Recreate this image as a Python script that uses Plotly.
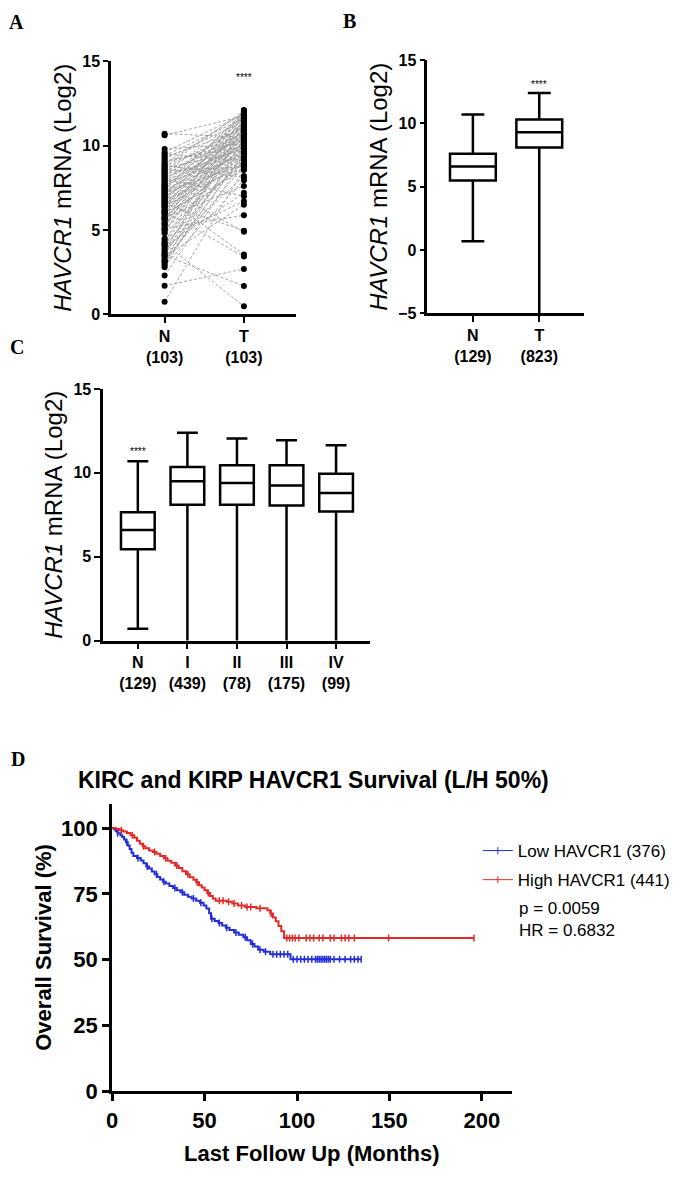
import plotly.graph_objects as go
import numpy as np

W, H = 685, 1177
def px(x): return x / W
def py(y): return 1 - y / H

FONT = "Liberation Sans, Arial, Helvetica, sans-serif"
SERIF = "Liberation Serif, Times New Roman, serif"

# ---------------- Panel A: paired N / T (103 pairs) ----------------
pair_n = [0.75, 1.7, 2.3, 2.8, 2.9, 3.0, 3.1, 3.2, 3.3, 3.4, 3.5, 3.6, 3.7, 3.8, 3.9, 4.0, 4.1, 4.2, 4.3, 4.4,
          4.5, 4.8, 4.9, 5.0, 5.05, 5.1, 5.2, 5.3, 5.35, 5.4, 5.5, 5.6, 5.65, 5.7, 5.75, 5.8, 5.9, 5.95, 6.0, 6.05,
          6.1, 6.15, 6.2, 6.3, 6.35, 6.4, 6.45, 6.5, 6.55, 6.6, 6.65, 6.7, 6.75, 6.8, 6.85, 6.9, 6.95, 7.0, 7.05, 7.1,
          7.15, 7.2, 7.25, 7.3, 7.35, 7.4, 7.45, 7.5, 7.55, 7.6, 7.65, 7.7, 7.8, 7.85, 7.9, 8.0, 8.05, 8.1, 8.2, 8.25,
          8.3, 8.4, 8.45, 8.5, 8.6, 8.65, 8.7, 8.8, 8.85, 8.9, 9.0, 9.1, 9.2, 9.3, 9.4, 9.5, 9.6, 9.8, 10.6, 10.7,
          3.15, 4.15, 3.55]
pair_t = [8.6, 2.69, 9.2, 10.4, 7.95, 9.6, 11.2, 8.8, 10.1, 6.5, 1.68, 9.9, 11.6, 8.2, 10.7, 7.2, 9.35, 0.48, 11.9, 10.25,
          6.7, 9.05, 11.4, 10.55, 8.95, 5.87, 11.75, 9.75, 10.85, 8.7, 12.05, 9.45, 10.3, 11.05, 7.6, 9.15, 11.5, 10.0, 8.55, 10.65,
          3.43, 11.3, 9.55, 12.1, 10.15, 8.9, 11.0, 9.8, 4.96, 10.45, 11.85, 9.25, 10.95, 8.65, 11.45, 10.2, 3.55, 9.65, 11.65, 10.75,
          9.0, 11.15, 10.35, 8.85, 12.0, 9.5, 10.9, 4.9, 11.35, 9.95, 10.6, 11.8, 9.3, 10.05, 11.55, 7.0, 10.5, 9.85, 11.25, 10.8,
          9.4, 11.7, 10.4, 8.75, 11.1, 9.7, 12.05, 10.7, 8.1, 11.95, 10.25, 9.9, 11.45, 10.95, 11.6, 9.1, 11.85, 10.1, 11.75, 10.5,
          9.45, 10.85, 11.3]
a_labels = ["N<br>(103)", "T<br>(103)"]

# ---------------- Panel B: box N vs T ----------------
b_labels = ["N<br>(129)", "T<br>(823)"]
b_q1 = [5.5, 8.1]
b_med = [6.6, 9.3]
b_q3 = [7.6, 10.3]
b_lo = [0.7, -5.5]
b_hi = [10.7, 12.4]

# ---------------- Panel C: box by stage ----------------
c_labels = ["N<br>(129)", "I<br>(439)", "II<br>(78)", "III<br>(175)", "IV<br>(99)"]
c_q1 = [5.45, 8.1, 8.1, 8.05, 7.7]
c_med = [6.6, 9.5, 9.4, 9.25, 8.8]
c_q3 = [7.65, 10.35, 10.45, 10.45, 9.95]
c_lo = [0.7, -5.5, -5.5, -5.5, -5.5]
c_hi = [10.7, 12.4, 12.05, 11.95, 11.65]

# ---------------- Panel D: Kaplan-Meier ----------------
low_t = [0, 1.0, 2.0, 3.0, 4.5, 5.5, 6.5, 7.5, 8.5, 9.5, 10.5, 11.5, 13.5, 15.5, 17.0, 18.5, 20.0, 21.5, 23.0, 24.5,
         26.0, 27.5, 29.0, 31.0, 33.0, 35.0, 37.0, 39.0, 41.0, 43.0, 45.5, 47.5, 49.5, 51.0, 52.5, 53.5, 55.5, 57.5,
         59.5, 61.5, 63.5, 66.0, 68.5, 71.0, 73.0, 75.0, 77.0, 79.0, 82.0, 85.5, 96.5]
low_s = [100, 99.5, 98.8, 98.0, 97.3, 96.6, 95.6, 94.6, 93.4, 92.0, 90.6, 89.4, 88.6, 87.7, 86.6, 85.4, 84.6, 83.5, 82.4, 81.4,
         80.5, 79.6, 78.9, 78.0, 77.2, 76.4, 75.6, 74.7, 73.9, 73.2, 72.4, 71.6, 70.6, 69.4, 67.6, 65.5, 64.7, 63.9,
         63.0, 62.1, 61.3, 60.3, 59.5, 58.5, 57.4, 56.0, 55.0, 53.8, 53.0, 52.1, 50.2]
low_cens = [3, 8, 14, 19, 24, 28, 34, 38, 44, 48, 54, 58, 62, 67, 72, 76, 80, 83, 87, 89, 91, 93, 95, 98, 100, 102, 104,
            106, 108, 110, 111, 112, 113, 114, 115, 116, 117, 118, 120, 123, 126, 129, 131, 133, 134.7]

high_t = [0, 2.0, 4.0, 6.0, 8.0, 10.0, 12.0, 13.5, 15.0, 16.5, 18.0, 20.0, 22.0, 24.0, 26.0, 28.0, 30.0, 32.0, 34.0, 36.0,
          38.0, 40.0, 42.0, 44.0, 45.5, 47.0, 48.5, 50.0, 51.5, 53.0, 54.5, 56.0, 62.0, 65.0, 68.0, 72.0, 78.0, 84.0,
          85.5, 87.0, 88.5, 90.0, 91.5, 93.0]
high_s = [100, 99.6, 99.2, 98.7, 98.1, 97.3, 96.3, 95.2, 94.0, 93.1, 92.3, 91.5, 90.9, 90.2, 89.4, 88.5, 87.6, 86.8, 85.8, 84.8,
          83.6, 82.4, 81.3, 80.4, 79.4, 78.3, 77.4, 76.4, 75.3, 74.2, 73.2, 72.4, 72.0, 71.3, 70.6, 70.0, 69.5, 68.8,
          67.5, 66.0, 64.6, 62.8, 60.8, 58.2]
high_cens = [5, 11, 17, 23, 29, 35, 41, 46, 52, 58, 60, 63, 66, 70, 73, 75, 80, 86, 94.5, 96, 97.5, 99, 101, 105, 107,
             109, 112, 114, 118, 120, 124, 126, 128, 131, 149.5, 195.7]

BLUE = "rgb(35,45,215)"
RED = "rgb(228,40,40)"

fig = go.Figure()

# Panel A
lx, ly = [], []
for n, t in zip(pair_n, pair_t):
    lx += [0, 1, None]
    ly += [n, t, None]
fig.add_trace(go.Scatter(x=lx, y=ly, mode="lines", xaxis="x", yaxis="y", showlegend=False, hoverinfo="skip",
                         line=dict(color="rgb(155,155,155)", width=0.9, dash="3px,2px")))
fig.add_trace(go.Scatter(x=[0] * len(pair_n) + [1] * len(pair_t), y=pair_n + pair_t, mode="markers",
                         xaxis="x", yaxis="y", showlegend=False, marker=dict(color="black", size=6)))

# Panel B
fig.add_trace(go.Box(x=[0, 1], q1=b_q1, median=b_med, q3=b_q3, lowerfence=b_lo, upperfence=b_hi,
                     xaxis="x2", yaxis="y2", width=0.69, whiskerwidth=0.5, boxpoints=False,
                     line=dict(color="black", width=2.5), fillcolor="white", showlegend=False))
# Panel C
fig.add_trace(go.Box(x=list(range(len(c_labels))), q1=c_q1, median=c_med, q3=c_q3, lowerfence=c_lo, upperfence=c_hi,
                     xaxis="x3", yaxis="y3", width=0.68, whiskerwidth=0.62, boxpoints=False,
                     line=dict(color="black", width=2.5), fillcolor="white", showlegend=False))

# Panel D
def km(times, surv, cens, color, name, group):
    end = max(cens)
    xt = list(times) + [end]
    ys = list(surv) + [surv[-1]]
    idx = np.searchsorted(np.array(times), np.array(cens), side="right") - 1
    cy = [surv[i] for i in idx]
    fig.add_trace(go.Scatter(x=xt, y=ys, mode="lines", line=dict(color=color, width=2, shape="hv"),
                             xaxis="x4", yaxis="y4", showlegend=False, legendgroup=group))
    fig.add_trace(go.Scatter(x=cens, y=cy, mode="markers", xaxis="x4", yaxis="y4", showlegend=False,
                             legendgroup=group,
                             marker=dict(symbol="line-ns", size=5, line=dict(color=color, width=1.5))))
    fig.add_trace(go.Scatter(x=[None], y=[None], mode="lines+markers", name=name, xaxis="x4", yaxis="y4",
                             legendgroup=group, line=dict(color=color, width=1),
                             marker=dict(symbol="line-ns", size=5, line=dict(color=color, width=1))))

km(low_t, low_s, low_cens, BLUE, "Low HAVCR1 (376)", "low")
km(high_t, high_s, high_cens, RED, "High HAVCR1 (441)", "high")

axis_common = dict(showgrid=False, zeroline=False, showline=True, linecolor="black", ticks="outside",
                   tickcolor="black", color="black")
small_tick = dict(family=FONT, size=16, color="black", weight="bold")
ytitle = dict(text="<i>HAVCR1</i> mRNA (Log2)", font=dict(family=FONT, size=24, color="black"), standoff=4)

fig.update_layout(
    width=W, height=H, margin=dict(l=0, r=0, t=0, b=0), paper_bgcolor="white", plot_bgcolor="white",
    font=dict(family=FONT, color="black"),
    xaxis=dict(axis_common, domain=[px(106), px(293)], range=[-0.675, 1.6625], tickvals=[0, 1], ticktext=a_labels,
               linewidth=2.5, tickwidth=2, ticklen=6, tickfont=small_tick, anchor="y"),
    yaxis=dict(axis_common, domain=[py(312), py(54)], range=[0, 15], tickvals=[0, 5, 10, 15], linewidth=2.5,
               tickwidth=2, ticklen=5, tickfont=small_tick, title=ytitle, anchor="x"),
    xaxis2=dict(axis_common, domain=[px(425), px(583)], range=[-0.687, 1.672], tickvals=[0, 1], ticktext=b_labels,
                linewidth=2.5, tickwidth=2, ticklen=6, tickfont=small_tick, anchor="y2"),
    yaxis2=dict(axis_common, domain=[py(311), py(53)], range=[-5, 15], tickvals=[-5, 0, 5, 10, 15], linewidth=2.5,
                tickwidth=2, ticklen=5, tickfont=small_tick, title=ytitle, anchor="x2"),
    xaxis3=dict(axis_common, domain=[px(98), px(367)], range=[-0.7, 4.68], tickvals=list(range(len(c_labels))),
                ticktext=c_labels, linewidth=2.5, tickwidth=2, ticklen=6, tickfont=small_tick, anchor="y3"),
    yaxis3=dict(axis_common, domain=[py(644), py(388)], range=[0, 15], tickvals=[0, 5, 10, 15], linewidth=2.5,
                tickwidth=2, ticklen=6, tickfont=small_tick, title=ytitle, anchor="x3"),
    xaxis4=dict(axis_common, domain=[px(107), px(510)], range=[0, 216], tickvals=[0, 50, 100, 150, 200],
                linewidth=3, tickwidth=3, ticklen=7, tickfont=dict(family=FONT, size=22, color="black", weight="bold"),
                title=dict(text="Last Follow Up (Months)", font=dict(family=FONT, size=22, color="black", weight="bold"),
                           standoff=14), anchor="y4"),
    yaxis4=dict(axis_common, domain=[py(1103), py(810)], range=[0, 109.3], tickvals=[0, 25, 50, 75, 100],
                linewidth=3, tickwidth=3, ticklen=7, tickfont=dict(family=FONT, size=22, color="black", weight="bold"),
                title=dict(text="Overall Survival (%)", font=dict(family=FONT, size=22, color="black", weight="bold"),
                           standoff=4), anchor="x4"),
    legend=dict(x=px(476), y=py(840), xanchor="left", yanchor="top", bgcolor="rgba(0,0,0,0)",
                font=dict(family=FONT, size=17, color="black"), tracegroupgap=4, itemwidth=30),
)

ann = []
def letter(t, x, y):
    ann.append(dict(text=t, x=px(x), y=py(y), xref="paper", yref="paper", showarrow=False, xanchor="center",
                    yanchor="middle", font=dict(family=SERIF, size=20, color="black", weight="bold")))
letter("A", 11, 14)
letter("B", 347, 13)
letter("C", 11, 345)
letter("D", 12, 765)

ann.append(dict(text="****", x=1, y=14.0, xref="x", yref="y", showarrow=False, yanchor="middle",
                font=dict(family=FONT, size=10, color="black")))
ann.append(dict(text="****", x=1, y=13.1, xref="x2", yref="y2", showarrow=False, yanchor="middle",
                font=dict(family=FONT, size=10, color="black")))
ann.append(dict(text="****", x=0, y=11.3, xref="x3", yref="y3", showarrow=False, yanchor="middle",
                font=dict(family=FONT, size=10, color="black")))

ann.append(dict(text="KIRC and KIRP HAVCR1 Survival (L/H 50%)", x=px(310), y=py(786), xref="paper", yref="paper",
                showarrow=False, xanchor="center", yanchor="middle",
                font=dict(family=FONT, size=23, color="black", weight="bold")))
ann.append(dict(text="p = 0.0059", x=px(516), y=py(917), xref="paper", yref="paper", showarrow=False,
                xanchor="left", yanchor="middle", font=dict(family=FONT, size=17, color="black")))
ann.append(dict(text="HR = 0.6832", x=px(516), y=py(939), xref="paper", yref="paper", showarrow=False,
                xanchor="left", yanchor="middle", font=dict(family=FONT, size=17, color="black")))

fig.update_layout(annotations=ann)
fig.write_html(
    "out.html",
    config={"displayModeBar": False},
    post_script=("document.body.style.margin='0';document.body.style.padding='0';"
                 "document.body.style.overflow='hidden';document.documentElement.style.overflow='hidden';"),
)
